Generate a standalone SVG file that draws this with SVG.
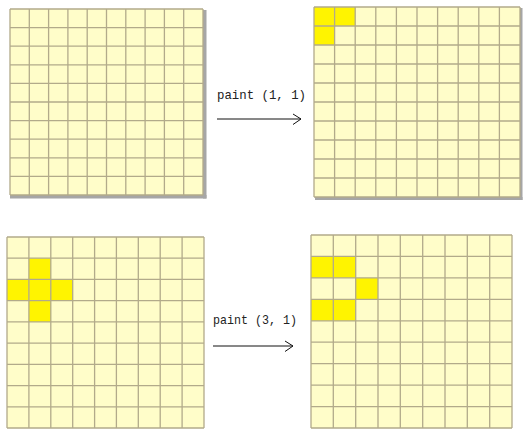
<svg xmlns="http://www.w3.org/2000/svg" width="531" height="439" viewBox="0 0 531 439">
<style>
.bg{fill:#fffdc9}
.hl{fill:#fff400}
.ln{fill:none;stroke:#b2aa8a;stroke-width:1.3}
.sh{fill:#a6a6a6}
.lbl{font-family:"Liberation Mono",monospace;font-size:13px;fill:#222}
.arr{fill:none;stroke:#111;stroke-width:1}
</style>
<rect width="531" height="439" fill="#ffffff"/>
<g id="grid-1">
<rect class="sh" x="203" y="10" width="3.5" height="188.5"/>
<rect class="sh" x="10" y="195" width="196.5" height="3.5"/>
<rect class="bg" x="10" y="9" width="193" height="186"/>
<path class="ln" d="M10,9V195M29.3,9V195M48.6,9V195M67.9,9V195M87.2,9V195M106.5,9V195M125.8,9V195M145.1,9V195M164.4,9V195M183.7,9V195M203,9V195M10,9H203M10,27.6H203M10,46.2H203M10,64.8H203M10,83.4H203M10,102H203M10,120.6H203M10,139.2H203M10,157.8H203M10,176.4H203M10,195H203"/>
</g>
<g id="grid-2">
<rect class="sh" x="520" y="8" width="2.5" height="192"/>
<rect class="sh" x="315" y="197" width="207.5" height="3"/>
<rect class="bg" x="314" y="7" width="206" height="190"/>
<rect class="hl" x="314" y="7" width="41.2" height="19"/>
<rect class="hl" x="314" y="26" width="20.6" height="19"/>
<path class="ln" d="M314,7V197M334.6,7V197M355.2,7V197M375.8,7V197M396.4,7V197M417,7V197M437.6,7V197M458.2,7V197M478.8,7V197M499.4,7V197M520,7V197M314,7H520M314,26H520M314,45H520M314,64H520M314,83H520M314,102H520M314,121H520M314,140H520M314,159H520M314,178H520M314,197H520"/>
</g>
<g id="grid-3">
<rect class="bg" x="7" y="237" width="197" height="191"/>
<path class="hl" d="M28.9,258.2H50.8V279.4H72.7V300.7H50.8V321.9H28.9V300.7H7V279.4H28.9Z"/>
<path class="ln" d="M7,237V428M28.9,237V428M50.8,237V428M72.7,237V428M94.6,237V428M116.4,237V428M138.3,237V428M160.2,237V428M182.1,237V428M204,237V428M7,237H204M7,258.2H204M7,279.4H204M7,300.7H204M7,321.9H204M7,343.1H204M7,364.3H204M7,385.6H204M7,406.8H204M7,428H204"/>
</g>
<g id="grid-4">
<rect class="bg" x="311" y="235" width="201" height="193"/>
<rect class="hl" x="311" y="256.4" width="44.7" height="21.5"/>
<rect class="hl" x="355.7" y="277.9" width="22.3" height="21.4"/>
<rect class="hl" x="311" y="299.3" width="44.7" height="21.5"/>
<path class="ln" d="M311,235V428M333.3,235V428M355.7,235V428M378,235V428M400.3,235V428M422.7,235V428M445,235V428M467.3,235V428M489.7,235V428M512,235V428M311,235H512M311,256.4H512M311,277.9H512M311,299.3H512M311,320.8H512M311,342.2H512M311,363.7H512M311,385.1H512M311,406.6H512M311,428H512"/>
</g>
<g id="connectors">
<text class="lbl" x="217" y="99" textLength="89" lengthAdjust="spacingAndGlyphs">paint (1, 1)</text>
<path class="arr" d="M217,119H301M293,114L301,119L293,124.5"/>
<text class="lbl" x="213" y="324" textLength="84" lengthAdjust="spacingAndGlyphs">paint (3, 1)</text>
<path class="arr" d="M213,346H293M285,341L293,346L285,351.5"/>
</g>
</svg>
